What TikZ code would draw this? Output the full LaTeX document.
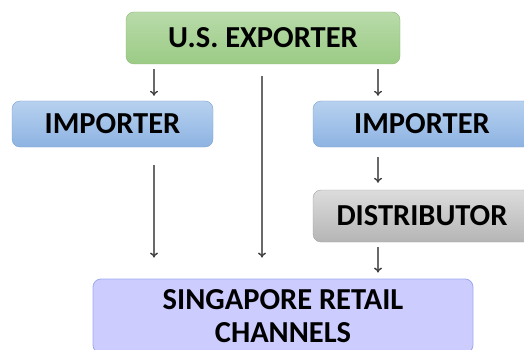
\documentclass[tikz,border=0pt]{standalone}
\usepackage{fontspec}
\setmainfont{Carlito}
\usetikzlibrary{arrows.meta}
\definecolor{greenTop}{HTML}{B9DBAA}
\definecolor{greenBot}{HTML}{9BCB85}
\definecolor{blueTop}{HTML}{B7D1EF}
\definecolor{blueBot}{HTML}{8DB3E2}
\definecolor{greyTop}{HTML}{DCDCDC}
\definecolor{greyBot}{HTML}{B5B5B5}
\definecolor{lavFill}{HTML}{CCCCFF}
\definecolor{lavLine}{HTML}{9FAAEE}
\definecolor{arrowGrey}{HTML}{6A6A6A}
\definecolor{headGrey}{HTML}{404040}
\begin{document}
\begin{tikzpicture}[x=1pt,y=-1pt,
  box/.style={rounded corners=8pt, inner sep=0pt, font=\fontsize{30.5}{33}\selectfont\bfseries, text=black, align=center},
  greenbox/.style={box, top color=greenTop, bottom color=greenBot, draw=greenBot!90!black, line width=0.4pt},
  bluebox/.style={box, top color=blueTop, bottom color=blueBot, draw=blueBot!90!black, line width=0.4pt},
  greybox/.style={box, top color=greyTop, bottom color=greyBot, draw=greyBot!90!black, line width=0.4pt},
  lavbox/.style={box, fill=lavFill, draw=lavLine, line width=0.8pt},
  arr/.style={draw=arrowGrey, line width=1.9pt, -{To[length=5pt,width=8pt,line width=1.4pt,color=headGrey]}}
]
\useasboundingbox (0,0) rectangle (524,350);
\clip (0,0) rectangle (524,350);

% boxes
\node[greenbox, minimum width=274pt, minimum height=52pt] (exp) at (263,38) {U.S. EXPORTER};
\node[bluebox, minimum width=201pt, minimum height=46pt] (impL) at (112.5,124) {IMPORTER};
\node[bluebox, minimum width=218pt, minimum height=46pt] (impR) at (422,124) {IMPORTER};
\node[greybox, minimum width=218pt, minimum height=52pt] (dist) at (422,216) {DISTRIBUTOR};
\node[lavbox, minimum width=380pt, minimum height=74pt] (ret) at (283,316) {SINGAPORE RETAIL\\CHANNELS};

% columns of the connectors
\coordinate (colL) at (154,0);
\coordinate (colM) at (262,0);
\coordinate (colR) at (378,0);

% connectors
\draw[arr, shorten <=5pt, shorten >=5pt] (exp.south -| colL) -- (impL.north -| colL);
\draw[arr, shorten <=5pt, shorten >=5pt] (exp.south -| colR) -- (impR.north -| colR);
\draw[arr, shorten <=12pt, shorten >=21pt] (exp.south -| colM) -- (ret.north -| colM);
\draw[arr, shorten <=18pt, shorten >=21pt] (impL.south -| colL) -- (ret.north -| colL);
\draw[arr, shorten <=10pt, shorten >=7pt] (impR.south -| colR) -- (dist.north -| colR);
\draw[arr, shorten <=5pt, shorten >=6pt] (dist.south -| colR) -- (ret.north -| colR);
\end{tikzpicture}
\end{document}
